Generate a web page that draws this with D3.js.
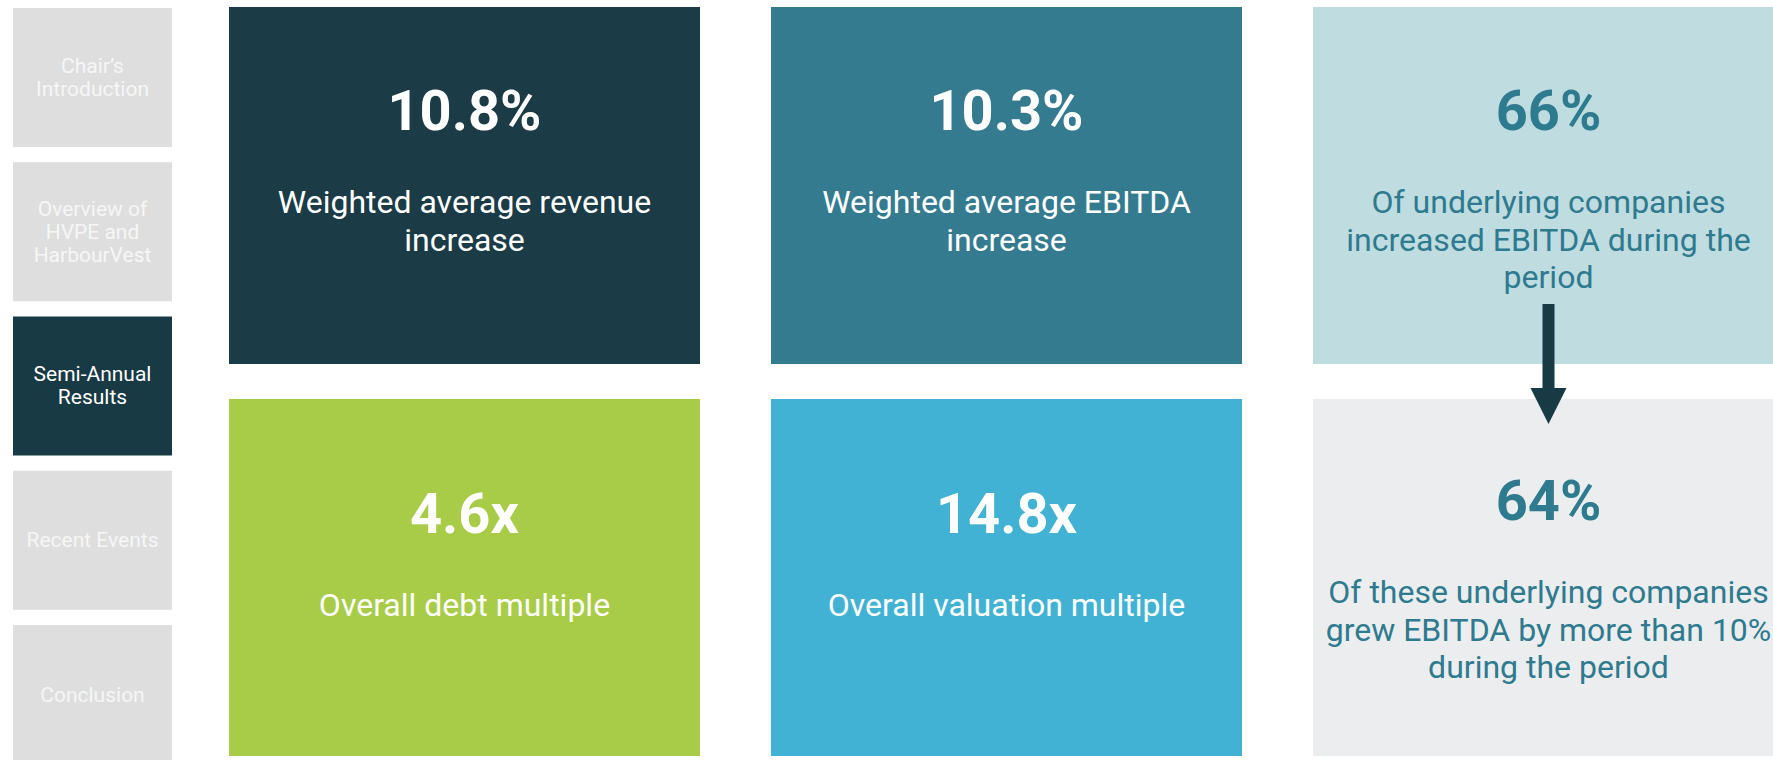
<!DOCTYPE html>
<html>
<head>
<meta charset="utf-8">
<script src="https://cdn.jsdelivr.net/npm/d3@7"></script>
<style>
  html, body { margin: 0; padding: 0; background: #fff; overflow: hidden; }
  svg { display: block; font-family: Roboto, "Open Sans", sans-serif; }
</style>
</head>
<body>
<div class="graph"></div>
<script>
// chart data
var navItems = [["Chair\u2019s", "Introduction"], ["Overview of", "HVPE and", "HarbourVest"], ["Semi-Annual", "Results"], ["Recent Events"], ["Conclusion"]];
var activeNav = 2;

var cardValues = ["10.8%", "10.3%", "66%", "4.6x", "14.8x", "64%"];
var cardLabels = [
  ["Weighted average revenue", "increase"],
  ["Weighted average EBITDA", "increase"],
  ["Of underlying companies", "increased EBITDA during the", "period"],
  ["Overall debt multiple"],
  ["Overall valuation multiple"],
  ["Of these underlying companies", "grew EBITDA by more than 10%", "during the period"]
];
var cardCols = [0, 1, 2, 0, 1, 2];
var cardRows = [0, 0, 0, 1, 1, 1];

var cardFill = ["#1b3b47", "#357b90", "#bfdce0", "#a8cb48", "#41b2d3", "#ecedef"];
var cardText = ["#ffffff", "#ffffff", "#2e7a8e", "#ffffff", "#ffffff", "#2e7a8e"];

var width = 1773, height = 760;

var svg = d3.select(".graph").append("svg")
    .attr("width", width)
    .attr("height", height);

// ****************** nav column ***************************
var navY = d3.scaleBand()
    .domain(d3.range(navItems.length))
    .range([8, 764])
    .paddingInner(0.099);

var navX = [13, 172];

var nav = svg.selectAll("g.nav")
    .data(navItems)
  .enter().append("g")
    .attr("class", "nav")
    .attr("transform", function(d, i) { return "translate(0," + navY(i) + ")"; });

nav.append("rect")
    .attr("x", navX[0])
    .attr("width", navX[1] - navX[0])
    .attr("height", navY.bandwidth())
    .style("fill", function(d, i) { return i == activeNav ? "#183a45" : "#dedede"; });

nav.append("text")
    .attr("text-anchor", "middle")
    .attr("font-size", 21)
    .style("fill", function(d, i) { return i == activeNav ? "#ffffff" : "#f6f6f6"; })
    .selectAll("tspan")
    .data(function(d) { return d.map(function(t, j) { return {t: t, j: j, n: d.length}; }); })
  .enter().append("tspan")
    .attr("x", (navX[0] + navX[1]) / 2)
    .attr("y", function(d) { return navY.bandwidth() / 2 + 7 + (d.j - (d.n - 1) / 2) * 23; })
    .text(function(d) { return d.t; });

// ****************** cards ***************************
var colX = d3.scaleBand().domain([0, 1, 2]).range([229, 1784]).paddingInner(0.131);
var rowY = d3.scaleBand().domain([0, 1]).range([7, 756]).paddingInner(0.0893);

var card = svg.selectAll("g.card")
    .data(cardValues)
  .enter().append("g")
    .attr("class", "card")
    .attr("transform", function(d, i) {
      return "translate(" + colX(cardCols[i]) + "," + rowY(cardRows[i]) + ")";
    });

card.append("rect")
    .attr("width", colX.bandwidth())
    .attr("height", rowY.bandwidth())
    .style("fill", function(d, i) { return cardFill[i]; });

// baseline of the big number inside the card
function valueY(i) {
  if (cardLabels[i].length == 1) return 134;
  return cardRows[i] == 0 ? 123 : 121;
}

card.append("text")
    .attr("class", "value")
    .attr("x", colX.bandwidth() / 2)
    .attr("y", function(d, i) { return valueY(i); })
    .attr("text-anchor", "middle")
    .attr("font-size", 56)
    .attr("font-weight", 700)
    .style("fill", function(d, i) { return cardText[i]; })
    .text(function(d) { return d; });

card.append("text")
    .attr("class", "label")
    .attr("text-anchor", "middle")
    .attr("font-size", 32)
    .style("fill", function(d, i) { return cardText[i]; })
    .each(function(d, i) {
      d3.select(this).selectAll("tspan")
        .data(cardLabels[i])
      .enter().append("tspan")
        .attr("x", colX.bandwidth() / 2)
        .attr("y", function(t, j) { return valueY(i) + 83 + j * 37.5; })
        .text(function(t) { return t; });
    });

// ****************** arrow between right-hand cards ***************************
var ax = colX(2) + colX.bandwidth() / 2;
var shaftTop = 304, headTop = 388, tip = 424;
svg.append("path")
    .attr("d", "M" + (ax - 6) + "," + shaftTop + "H" + (ax + 6) + "V" + headTop +
      "H" + (ax + 18) + "L" + ax + "," + tip + "L" + (ax - 18) + "," + headTop +
      "H" + (ax - 6) + "Z")
    .style("fill", "#183a45");
</script>
</body>
</html>
